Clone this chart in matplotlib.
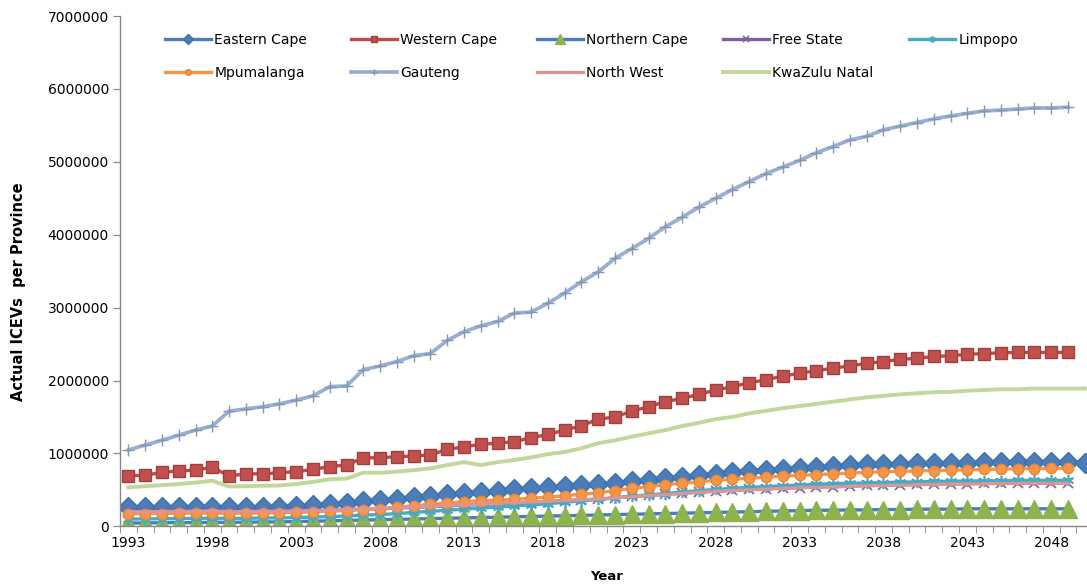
import numpy as np
import matplotlib.pyplot as plt
from matplotlib.ticker import FuncFormatter, MultipleLocator, FixedLocator

# values in millions of vehicles, 1993..2049 (two series run to 2050)
years = list(range(1993, 2050))
years_ext = list(range(1993, 2051))

eastern_cape = [0.26, 0.265, 0.265, 0.27, 0.27, 0.27, 0.265, 0.265, 0.27, 0.27, 0.28,
                0.29, 0.30, 0.32, 0.35, 0.36, 0.38, 0.40, 0.42, 0.44, 0.46,
                0.475, 0.49, 0.505, 0.52, 0.535, 0.55, 0.565, 0.58, 0.60, 0.62,
                0.64, 0.66, 0.68, 0.70, 0.72, 0.74, 0.76, 0.775, 0.79, 0.80,
                0.815, 0.83, 0.84, 0.85, 0.855, 0.86, 0.865, 0.87, 0.875, 0.875,
                0.88, 0.88, 0.88, 0.88, 0.88, 0.88, 0.87]
western_cape = [0.694, 0.70, 0.74, 0.76, 0.77, 0.81, 0.69, 0.72, 0.72, 0.735, 0.75,
                0.78, 0.82, 0.84, 0.94, 0.94, 0.955, 0.965, 0.98, 1.056, 1.09,
                1.125, 1.14, 1.16, 1.215, 1.26, 1.32, 1.38, 1.47, 1.50, 1.58,
                1.64, 1.71, 1.755, 1.81, 1.87, 1.915, 1.97, 2.01, 2.06, 2.10,
                2.135, 2.17, 2.20, 2.235, 2.26, 2.29, 2.305, 2.33, 2.34, 2.36,
                2.37, 2.38, 2.385, 2.385, 2.385, 2.385]
northern_cape = [0.045, 0.045, 0.05, 0.05, 0.05, 0.055, 0.055, 0.055, 0.06, 0.06, 0.065,
                 0.07, 0.075, 0.08, 0.085, 0.09, 0.095, 0.10, 0.105, 0.11, 0.115,
                 0.12, 0.125, 0.13, 0.135, 0.14, 0.145, 0.15, 0.155, 0.16, 0.165,
                 0.17, 0.175, 0.18, 0.185, 0.19, 0.195, 0.20, 0.205, 0.21, 0.215,
                 0.22, 0.22, 0.225, 0.225, 0.23, 0.23, 0.235, 0.235, 0.235, 0.24,
                 0.24, 0.24, 0.24, 0.24, 0.24, 0.24]
free_state = [0.19, 0.19, 0.195, 0.195, 0.20, 0.20, 0.195, 0.195, 0.20, 0.20, 0.205,
              0.21, 0.22, 0.225, 0.235, 0.24, 0.25, 0.26, 0.27, 0.28, 0.29,
              0.30, 0.31, 0.32, 0.33, 0.34, 0.35, 0.36, 0.37, 0.39, 0.41,
              0.425, 0.44, 0.455, 0.47, 0.485, 0.495, 0.505, 0.515, 0.525, 0.53,
              0.54, 0.545, 0.55, 0.56, 0.565, 0.57, 0.575, 0.58, 0.58, 0.585,
              0.59, 0.59, 0.595, 0.595, 0.60, 0.60]
limpopo = [0.10, 0.10, 0.105, 0.105, 0.11, 0.11, 0.11, 0.11, 0.115, 0.115, 0.12,
           0.125, 0.135, 0.14, 0.155, 0.16, 0.175, 0.19, 0.205, 0.22, 0.235,
           0.25, 0.265, 0.28, 0.295, 0.31, 0.33, 0.35, 0.37, 0.39, 0.41,
           0.43, 0.45, 0.47, 0.49, 0.505, 0.52, 0.535, 0.545, 0.555, 0.565,
           0.575, 0.585, 0.59, 0.595, 0.60, 0.605, 0.61, 0.615, 0.62, 0.62,
           0.625, 0.625, 0.63, 0.63, 0.63, 0.63]
mpumalanga = [0.17, 0.175, 0.175, 0.18, 0.18, 0.18, 0.175, 0.18, 0.18, 0.185, 0.19,
              0.20, 0.21, 0.215, 0.23, 0.24, 0.26, 0.28, 0.30, 0.32, 0.34,
              0.35, 0.36, 0.37, 0.385, 0.40, 0.42, 0.44, 0.46, 0.49, 0.52,
              0.545, 0.57, 0.59, 0.61, 0.63, 0.645, 0.66, 0.675, 0.69, 0.70,
              0.71, 0.72, 0.73, 0.74, 0.75, 0.755, 0.76, 0.765, 0.77, 0.775,
              0.78, 0.785, 0.79, 0.79, 0.795, 0.795]
gauteng = [1.047, 1.115, 1.18, 1.25, 1.32, 1.376, 1.58, 1.61, 1.64, 1.68, 1.73,
           1.79, 1.915, 1.925, 2.15, 2.20, 2.26, 2.34, 2.37, 2.55, 2.67,
           2.75, 2.81, 2.925, 2.94, 3.06, 3.20, 3.355, 3.49, 3.676, 3.81,
           3.95, 4.11, 4.24, 4.38, 4.50, 4.62, 4.73, 4.84, 4.93, 5.02,
           5.125, 5.21, 5.30, 5.35, 5.44, 5.49, 5.54, 5.59, 5.63, 5.665,
           5.70, 5.71, 5.725, 5.74, 5.74, 5.75]
north_west = [0.20, 0.20, 0.20, 0.205, 0.205, 0.21, 0.20, 0.20, 0.205, 0.205, 0.21,
              0.215, 0.22, 0.23, 0.24, 0.245, 0.255, 0.265, 0.275, 0.285, 0.295,
              0.305, 0.315, 0.325, 0.335, 0.345, 0.355, 0.365, 0.375, 0.39, 0.405,
              0.42, 0.435, 0.45, 0.465, 0.48, 0.49, 0.50, 0.51, 0.52, 0.53,
              0.535, 0.54, 0.55, 0.555, 0.56, 0.565, 0.57, 0.575, 0.58, 0.58,
              0.585, 0.585, 0.59, 0.59, 0.59, 0.59]
kwazulu_natal = [0.535, 0.55, 0.565, 0.58, 0.60, 0.625, 0.545, 0.55, 0.557, 0.56, 0.58,
                 0.61, 0.645, 0.655, 0.735, 0.735, 0.75, 0.77, 0.795, 0.84, 0.88,
                 0.84, 0.88, 0.91, 0.945, 0.99, 1.02, 1.07, 1.14, 1.18, 1.23,
                 1.275, 1.32, 1.375, 1.42, 1.47, 1.50, 1.55, 1.585, 1.62, 1.65,
                 1.68, 1.71, 1.74, 1.77, 1.79, 1.81, 1.825, 1.84, 1.845, 1.86,
                 1.87, 1.88, 1.88, 1.89, 1.89, 1.89, 1.89]

label_years = list(range(1993, 2049, 5))

plt.rcParams['font.family'] = ['DejaVu Sans']

fig = plt.figure(figsize=(10.87, 5.84), dpi=100)
ax = fig.add_axes([120 / 1087, 57.7 / 584, 1 - 120 / 1087, 510.2 / 584])

lw = 2.4
handles = []
handles += ax.plot(years_ext, eastern_cape, color='#4A7EBB', lw=lw, marker='D', ms=10,
                   mfc='#4A7EBB', mec='#3F6FA8', label='Eastern Cape')
handles += ax.plot(years, western_cape, color='#BE4B48', lw=lw, marker='s', ms=9,
                   mfc='#C0504D', mec='#A33E3B', label='Western Cape')
handles += ax.plot(years, northern_cape, color='#4A7EBB', lw=lw, marker='^', ms=13,
                   mfc='#8DB34E', mec='#8DB34E', label='Northern Cape')
handles += ax.plot(years, free_state, color='#7D60A0', lw=lw, marker='x', ms=7, mew=1.2,
                   mec='#7D60A0', label='Free State')
handles += ax.plot(years, limpopo, color='#46AAC5', lw=lw, marker=(6, 2, 0), ms=8, mew=1.2,
                   mec='#46AAC5', label='Limpopo')
handles += ax.plot(years, mpumalanga, color='#F79646', lw=lw, marker='o', ms=7.5,
                   mfc='#F79646', mec='#E8873A', label='Mpumalanga')
handles += ax.plot(years, gauteng, color='#98AFD3', lw=lw + 0.3, marker='+', ms=8, mew=1.0,
                   mec='#8497B0', label='Gauteng')
handles += ax.plot(years, north_west, color='#D99694', lw=lw, label='North West')
handles += ax.plot(years_ext, kwazulu_natal, color='#C3D69B', lw=lw + 0.4,
                   label='KwaZulu Natal')

ax.set_xlim(1992.5, 2050.13)
ax.set_ylim(0, 7)
ax.yaxis.set_major_locator(MultipleLocator(1))
ax.yaxis.set_major_formatter(FuncFormatter(lambda v, p: '%d' % round(v * 1e6)))
ax.xaxis.set_major_locator(FixedLocator(label_years))
ax.xaxis.set_minor_locator(FixedLocator([y + 0.5 for y in range(1992, 2051)]))

for s in ['top', 'right']:
    ax.spines[s].set_visible(False)
for s in ['left', 'bottom']:
    ax.spines[s].set_color('#868686')
    ax.spines[s].set_linewidth(1.0)
ax.tick_params(axis='y', which='major', length=5, color='#868686', labelsize=10, pad=3)
ax.tick_params(axis='x', which='major', length=0, labelsize=10, pad=7)
ax.tick_params(axis='x', which='minor', length=5, color='#868686')

ax.set_ylabel('Actual ICEVs  per Province', fontsize=10.5, fontweight='bold')
ax.yaxis.set_label_coords(-0.097, 0.46)
ax.set_xlabel('Year', fontsize=9.5, fontweight='bold')
ax.xaxis.set_label_coords((607 - 120) / 967, -0.085)

# legend: 5 columns laid out row-wise, one small legend per column
col_x = [165, 351, 537, 723, 909]
for i, x in enumerate(col_x):
    hs = [handles[i]] + ([handles[i + 5]] if i + 5 < len(handles) else [])
    fig.legend(handles=hs, loc='upper left', bbox_to_anchor=(x / 1087, 1 - 33 / 584),
               frameon=False, fontsize=10, handlelength=3.3, handletextpad=0.25,
               labelspacing=1.35, markerscale=0.55, borderaxespad=0, borderpad=0)

fig.savefig('out.png', dpi=100)
